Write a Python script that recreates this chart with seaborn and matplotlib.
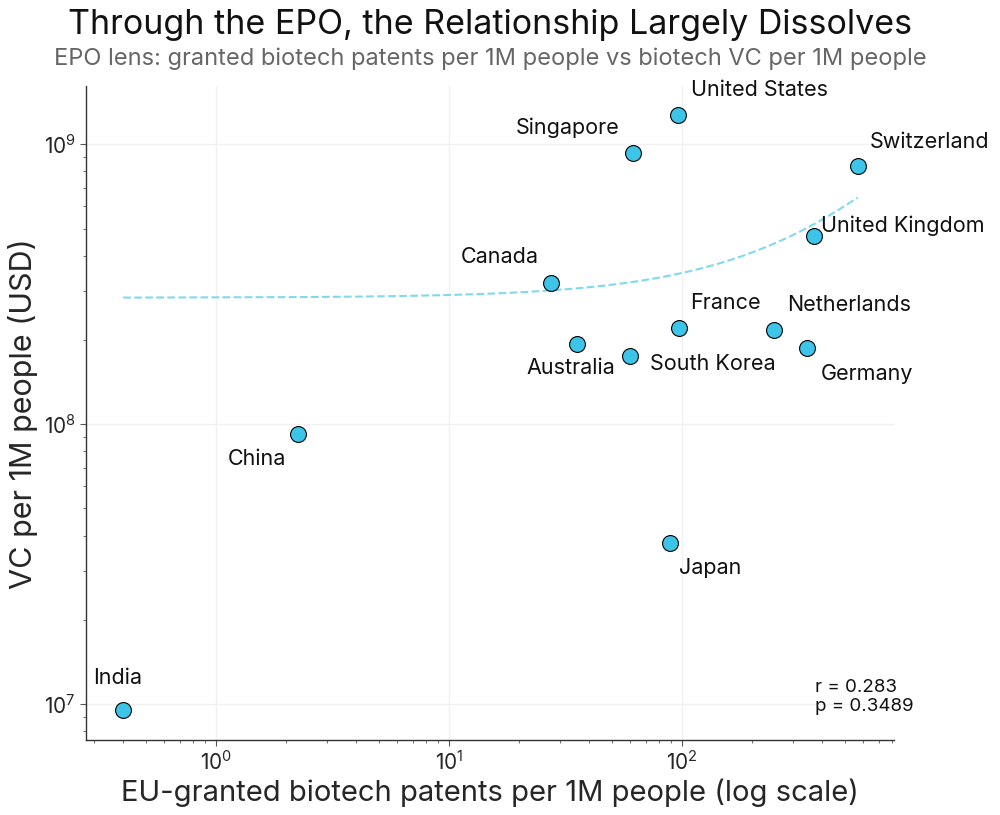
import numpy as np
import seaborn as sns
import matplotlib.pyplot as plt

# Data
countries = ["India", "China", "Canada", "Australia", "Singapore", "South Korea",
             "United States", "France", "Japan", "Netherlands", "Germany",
             "United Kingdom", "Switzerland"]
patents_per_1m = [0.40, 2.25, 27.4, 35.4, 61.6, 59.8, 96.1, 96.9, 88.8, 248, 344, 369, 569]
vc_per_1m = [9.5e6, 9.2e7, 3.19e8, 1.93e8, 9.29e8, 1.75e8, 1.27e9, 2.20e8, 3.76e7,
             2.17e8, 1.87e8, 4.69e8, 8.34e8]
r_value = 0.283
p_value = 0.3489

# label offsets in pixels (dx, dy), dy positive = up
label_offsets = {
    "India": (-6, 32), "China": (-41, -25), "Canada": (-51, 26),
    "Australia": (-6, -24), "Singapore": (-65, 25), "South Korea": (83, -8),
    "United States": (82, 25), "France": (47, 25), "Japan": (40, -25),
    "Netherlands": (75, 25), "Germany": (60, -26), "United Kingdom": (89, 11),
    "Switzerland": (72, 24),
}

sns.set_style("ticks")
plt.rcParams['font.family'] = ['Inter', 'DejaVu Sans']

fig = plt.figure(figsize=(10, 8.15), dpi=100)
ax = fig.add_axes([0.086, 0.092, 0.808, 0.802])

sns.scatterplot(x=patents_per_1m, y=vc_per_1m, ax=ax, s=130, color='#3cc5e8',
                edgecolor='black', linewidth=0.8, zorder=3)

# linear fit in raw space, drawn on log axes
xs = np.array(patents_per_1m)
ys = np.array(vc_per_1m)
b, a = np.polyfit(xs, ys, 1)
xfit = np.linspace(xs.min(), xs.max(), 300)
ax.plot(xfit, a + b * xfit, ls='--', color='#7fd9ef', lw=1.5, zorder=2)

ax.set_xscale('log')
ax.set_yscale('log')
ax.set_xlim(0.277, 815)
ax.set_ylim(7.44e6, 1.61e9)

for c, xv, yv in zip(countries, patents_per_1m, vc_per_1m):
    dx, dy = label_offsets[c]
    ax.annotate(c, (xv, yv), xytext=(dx, dy), textcoords='offset pixels',
                ha='center', va='center', fontsize=15.5, color='#111111')

ax.text(0.902, 0.038, f"r = {r_value:.3f}\np = {p_value:.4f}", transform=ax.transAxes,
        ha='left', va='bottom', fontsize=13.5, color='#111111', linespacing=1.2)

ax.grid(True, which='major', color='#f1f1f1', lw=1)
ax.set_axisbelow(True)
sns.despine(ax=ax)
for sp in ['left', 'bottom']:
    ax.spines[sp].set_color('#333333')
    ax.spines[sp].set_linewidth(1)
ax.tick_params(axis='both', which='major', labelsize=15, length=4, color='#555555')
ax.tick_params(axis='both', which='minor', length=2.5, color='#555555')

ax.set_xlabel("EU-granted biotech patents per 1M people (log scale)", fontsize=21, labelpad=3)
ax.set_ylabel("VC per 1M people (USD)", fontsize=22, labelpad=4)

fig.text(0.49, 0.969, "Through the EPO, the Relationship Largely Dissolves",
         ha='center', va='center', fontsize=24.5, color='#111111')
fig.text(0.49, 0.928, "EPO lens: granted biotech patents per 1M people vs biotech VC per 1M people",
         ha='center', va='center', fontsize=17, color='#666666')

fig.savefig("out.png", dpi=100)
